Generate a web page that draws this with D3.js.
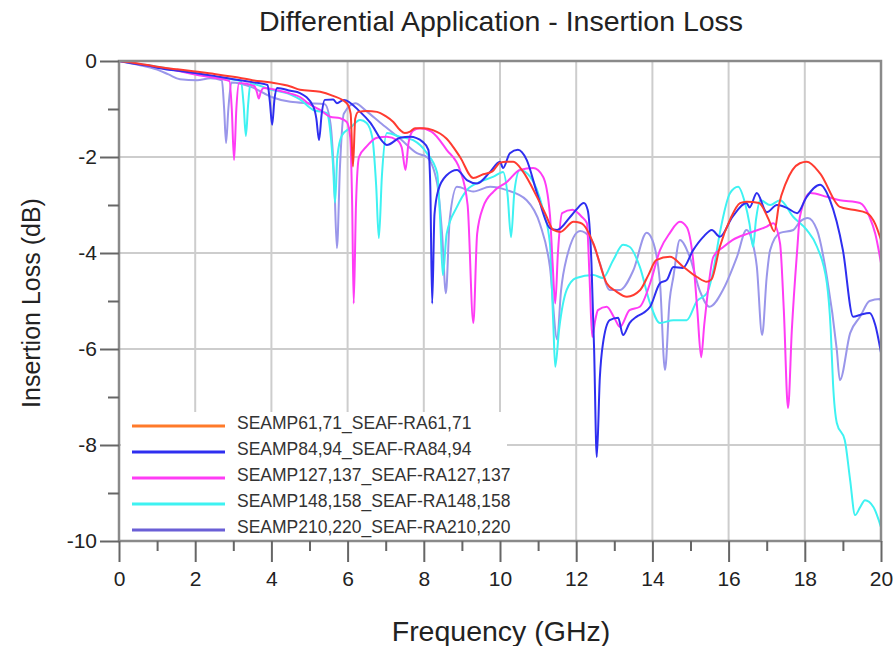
<!DOCTYPE html>
<html>
<head>
<meta charset="utf-8">
<script src="https://cdn.jsdelivr.net/npm/d3@7/dist/d3.min.js"></script>
<style>
  body { margin: 0; background: #fff; }
  svg { font-family: "Liberation Sans", Arial, sans-serif; }
</style>
</head>
<body>
<div id="chart"></div>
<script>
// Insertion loss curves, [frequency GHz, loss dB]
const seamp61 = [[0,0],[0.5,-0.05],[1,-0.12],[1.5,-0.17],[2,-0.22],[2.5,-0.27],[3,-0.33],[3.5,-0.4],[4,-0.45],[4.5,-0.53],[4.75,-0.6],[5.28,-0.64],[5.6,-0.72],[5.98,-0.88],[6.08,-1.1],[6.14,-2.2],[6.2,-1.2],[6.28,-1.06],[6.5,-1.04],[6.77,-1.06],[7.0,-1.15],[7.2,-1.27],[7.38,-1.44],[7.5,-1.5],[7.64,-1.47],[7.77,-1.4],[8.0,-1.4],[8.24,-1.44],[8.6,-1.62],[8.95,-2.0],[9.3,-2.44],[9.56,-2.36],[9.8,-2.3],[10.0,-2.12],[10.17,-2.1],[10.35,-2.1],[10.6,-2.3],[10.97,-2.83],[11.2,-3.2],[11.4,-3.52],[11.58,-3.56],[11.93,-3.35],[12.1,-3.37],[12.2,-3.42],[12.45,-3.8],[12.8,-4.63],[13.05,-4.8],[13.33,-4.91],[13.68,-4.77],[13.9,-4.45],[14.1,-4.15],[14.46,-4.08],[14.8,-4.28],[15.17,-4.5],[15.43,-4.6],[15.55,-4.55],[15.77,-3.87],[16.04,-3.3],[16.3,-2.96],[16.47,-2.93],[16.8,-2.96],[17.05,-3.3],[17.2,-3.55],[17.32,-3.0],[17.5,-2.55],[17.87,-2.13],[18.05,-2.1],[18.4,-2.34],[18.92,-3.04],[19.27,-3.1],[19.63,-3.17],[19.85,-3.4],[20,-3.73]];

const seamp84 = [[0,0],[0.5,-0.07],[0.8,-0.1],[1,-0.14],[1.5,-0.2],[2,-0.25],[2.5,-0.31],[3,-0.38],[3.5,-0.44],[3.9,-0.5],[3.96,-0.85],[4.02,-1.33],[4.08,-0.8],[4.15,-0.56],[4.5,-0.62],[4.75,-0.67],[5.1,-0.95],[5.18,-1.2],[5.25,-1.65],[5.32,-1.1],[5.4,-0.81],[5.62,-0.8],[5.72,-0.88],[5.9,-0.81],[6.33,-1.06],[6.6,-1.29],[6.93,-1.69],[7.03,-1.75],[7.38,-1.6],[7.64,-1.58],[7.98,-1.69],[8.12,-1.85],[8.17,-2.6],[8.22,-5.05],[8.28,-3.2],[8.38,-2.69],[8.6,-2.38],[8.87,-2.27],[9.13,-2.48],[9.4,-2.55],[9.74,-2.31],[10.0,-2.1],[10.08,-2.23],[10.26,-1.92],[10.47,-1.85],[10.7,-2.06],[10.97,-2.75],[11.31,-3.48],[11.5,-3.52],[11.84,-3.25],[12.0,-3.1],[12.2,-2.96],[12.3,-3.1],[12.4,-4.2],[12.47,-6.0],[12.54,-8.25],[12.62,-6.6],[12.7,-5.9],[12.88,-5.4],[13.1,-5.35],[13.23,-5.71],[13.4,-5.46],[13.58,-5.33],[13.76,-5.25],[13.94,-5.12],[14.2,-4.63],[14.38,-4.56],[14.55,-4.29],[14.8,-4.31],[15.07,-3.94],[15.33,-3.67],[15.56,-3.52],[15.77,-3.66],[16.1,-3.25],[16.47,-2.96],[16.55,-3.05],[16.74,-2.75],[17.0,-3.15],[17.27,-3.0],[17.53,-3.06],[17.8,-3.17],[18.05,-2.83],[18.4,-2.58],[18.66,-2.9],[19.0,-3.94],[19.27,-5.33],[19.45,-5.29],[19.7,-5.25],[19.85,-5.5],[20,-6.08]];

const seamp127 = [[0,0],[0.5,-0.06],[1,-0.13],[1.5,-0.2],[2,-0.28],[2.5,-0.35],[2.9,-0.42],[2.96,-1.0],[3.02,-2.06],[3.08,-1.0],[3.15,-0.46],[3.55,-0.52],[3.62,-0.65],[3.67,-0.78],[3.72,-0.65],[3.8,-0.56],[4.2,-0.62],[4.5,-0.68],[4.75,-0.75],[5.0,-0.9],[5.28,-1.02],[5.54,-1.16],[5.8,-1.19],[5.98,-1.27],[6.07,-1.6],[6.12,-3.0],[6.16,-5.05],[6.22,-3.0],[6.3,-2.0],[6.5,-1.78],[6.77,-1.6],[7.03,-1.58],[7.3,-1.65],[7.42,-1.8],[7.52,-2.27],[7.6,-1.7],[7.72,-1.45],[7.9,-1.4],[8.2,-1.47],[8.6,-1.85],[8.95,-2.27],[9.15,-3.0],[9.3,-5.46],[9.4,-3.6],[9.56,-3.04],[9.83,-2.72],[10.18,-2.52],[10.52,-2.27],[10.87,-2.23],[11.13,-2.41],[11.31,-3.2],[11.38,-4.2],[11.45,-5.05],[11.52,-4.0],[11.63,-3.17],[11.9,-3.1],[12.15,-3.25],[12.28,-3.38],[12.35,-4.5],[12.42,-5.75],[12.5,-5.4],[12.57,-5.19],[12.8,-5.12],[13.0,-5.35],[13.15,-5.54],[13.4,-5.19],[13.67,-5.12],[13.94,-4.63],[14.2,-3.94],[14.46,-3.58],[14.72,-3.35],[14.9,-3.46],[15.07,-4.15],[15.18,-5.2],[15.28,-6.17],[15.36,-5.5],[15.43,-4.98],[15.6,-4.08],[15.87,-3.87],[16.1,-3.73],[16.56,-3.58],[17.0,-3.45],[17.17,-3.38],[17.35,-3.8],[17.45,-5.2],[17.56,-7.23],[17.66,-5.6],[17.8,-3.94],[17.87,-3.25],[18.14,-2.75],[18.58,-2.83],[18.92,-2.9],[19.45,-2.96],[19.7,-3.25],[19.85,-3.6],[20,-4.21]];

const seamp148 = [[0,0],[0.5,-0.06],[1,-0.12],[1.5,-0.19],[2,-0.27],[2.5,-0.33],[3.2,-0.42],[3.27,-0.9],[3.33,-1.56],[3.39,-0.9],[3.45,-0.47],[4,-0.6],[4.5,-0.7],[4.75,-0.8],[5.1,-1.02],[5.45,-1.08],[5.55,-1.5],[5.62,-2.2],[5.67,-2.95],[5.73,-2.0],[5.85,-1.55],[6.06,-1.4],[6.33,-1.23],[6.5,-1.29],[6.65,-1.6],[6.75,-2.6],[6.82,-3.69],[6.9,-2.4],[7.03,-1.5],[7.38,-1.58],[7.72,-1.65],[8.08,-1.92],[8.35,-2.33],[8.43,-3.3],[8.5,-4.46],[8.6,-3.6],[8.87,-3.04],[9.13,-2.69],[9.47,-2.52],[9.83,-2.41],[10.08,-2.31],[10.2,-2.8],[10.29,-3.67],[10.38,-2.7],[10.52,-2.27],[10.79,-2.41],[11.13,-3.1],[11.31,-3.8],[11.4,-5.5],[11.45,-6.37],[11.55,-5.6],[11.75,-4.77],[12.0,-4.52],[12.45,-4.46],[12.7,-4.52],[12.97,-4.15],[13.23,-3.83],[13.4,-3.87],[13.67,-4.29],[13.94,-5.05],[14.2,-5.46],[14.55,-5.4],[14.9,-5.4],[15.17,-5.0],[15.43,-4.84],[15.6,-4.36],[15.77,-3.58],[16.04,-2.75],[16.25,-2.62],[16.43,-2.96],[16.55,-3.4],[16.64,-3.87],[16.72,-3.3],[16.83,-2.9],[17.09,-3.0],[17.35,-2.9],[17.7,-3.25],[18.05,-3.52],[18.32,-3.87],[18.58,-4.63],[18.68,-5.6],[18.74,-6.71],[18.84,-7.54],[19.05,-7.9],[19.19,-8.73],[19.32,-9.46],[19.45,-9.3],[19.58,-9.15],[19.8,-9.29],[20,-9.71]];

const seamp210 = [[0,0],[0.5,-0.08],[1,-0.18],[1.3,-0.28],[1.6,-0.38],[2.05,-0.4],[2.4,-0.36],[2.7,-0.4],[2.76,-1.0],[2.81,-1.71],[2.87,-1.0],[2.95,-0.45],[3.5,-0.55],[4.0,-0.75],[4.5,-0.85],[5.0,-0.88],[5.4,-0.9],[5.55,-1.3],[5.65,-2.5],[5.72,-3.9],[5.8,-2.2],[5.9,-1.1],[6.2,-0.88],[6.5,-1.05],[6.85,-1.28],[7.38,-1.62],[7.82,-1.92],[8.08,-2.0],[8.35,-2.55],[8.48,-3.6],[8.58,-4.84],[8.68,-3.3],[8.87,-2.62],[9.3,-2.72],[9.74,-2.62],[10.18,-2.69],[10.7,-2.9],[11.05,-3.4],[11.31,-4.29],[11.5,-5.8],[11.6,-4.8],[11.75,-4.1],[12.1,-3.54],[12.36,-3.67],[12.62,-4.21],[12.88,-4.77],[13.15,-4.77],[13.5,-4.36],[13.85,-3.58],[14.0,-3.73],[14.2,-4.63],[14.33,-6.44],[14.45,-5.0],[14.55,-4.5],[14.72,-3.73],[14.98,-4.08],[15.25,-4.8],[15.5,-5.12],[15.87,-4.74],[16.22,-4.08],[16.47,-3.52],[16.6,-3.7],[16.74,-4.28],[16.88,-5.71],[17.0,-4.5],[17.09,-3.94],[17.35,-3.58],[17.7,-3.52],[17.87,-3.35],[18.08,-3.27],[18.32,-3.52],[18.58,-4.5],[18.84,-6.02],[18.92,-6.65],[19.19,-5.67],[19.45,-5.33],[19.7,-5.0],[19.97,-4.96],[20,-5.0]];

const seriesNames = [
  'SEAMP61,71_SEAF-RA61,71',
  'SEAMP84,94_SEAF-RA84,94',
  'SEAMP127,137_SEAF-RA127,137',
  'SEAMP148,158_SEAF-RA148,158',
  'SEAMP210,220_SEAF-RA210,220',
];
const seriesData = [seamp61, seamp84, seamp127, seamp148, seamp210];
const lineColors = ['#ff3b30', '#2e2ef0', '#ff3cf5', '#3ef2f2', '#9a96ea'];
const legendColors = ['#ff7a2a', '#2e2ef0', '#ff3cf5', '#3ef2f2', '#6a5fd6'];

const xMajor = [0, 2, 4, 6, 8, 10, 12, 14, 16, 18, 20];
const xMinor = [1, 3, 5, 7, 9, 11, 13, 15, 17, 19];
const yMajor = [0, -2, -4, -6, -8, -10];
const yMinor = [-1, -3, -5, -7, -9];

const width = 896;
const height = 646;
const plot = { left: 119, right: 881, top: 61, bottom: 541 };

const svg = d3.select('#chart')
  .append('svg')
  .attr('width', width)
  .attr('height', height);

const x = d3.scaleLinear().domain([0, 20]).range([plot.left, plot.right]);
const y = d3.scaleLinear().domain([-10, 0]).range([plot.bottom, plot.top]);

// grid lines
const grid = svg.append('g').attr('class', 'grid');
grid.selectAll('.vgrid')
  .data(xMajor.slice(1, -1))
  .enter()
  .append('line')
  .attr('x1', (d) => x(d)).attr('x2', (d) => x(d))
  .attr('y1', plot.top).attr('y2', plot.bottom)
  .style('stroke', '#cdcdcd').style('stroke-width', 2);
grid.selectAll('.hgrid')
  .data(yMajor.slice(1, -1))
  .enter()
  .append('line')
  .attr('x1', plot.left).attr('x2', plot.right)
  .attr('y1', (d) => y(d)).attr('y2', (d) => y(d))
  .style('stroke', '#cdcdcd').style('stroke-width', 2);

// legend box sits over the grid, under the curves
const legend = svg.append('g').attr('class', 'legend');
legend.append('rect')
  .attr('x', plot.left + 2).attr('y', 412)
  .attr('width', 386).attr('height', plot.bottom - 412 - 1)
  .style('fill', '#fff');

svg.append('clipPath').attr('id', 'plot-clip')
  .append('rect')
  .attr('x', plot.left).attr('y', plot.top)
  .attr('width', plot.right - plot.left).attr('height', plot.bottom - plot.top);

const line = d3.line()
  .x((d) => x(d[0]))
  .y((d) => y(d[1]))
  .curve(d3.curveMonotoneX);

// draw back to front so the red curve ends up on top
const order = [4, 3, 2, 1, 0];
svg.append('g')
  .attr('clip-path', 'url(#plot-clip)')
  .selectAll('path')
  .data(order)
  .enter()
  .append('path')
  .attr('d', (i) => line(seriesData[i]))
  .style('fill', 'none')
  .style('stroke', (i) => lineColors[i])
  .style('stroke-width', 2);

// legend entries
const legendRow = legend.selectAll('.entry')
  .data(seriesNames)
  .enter()
  .append('g')
  .attr('transform', (d, i) => `translate(0, ${426 + i * 26})`);
legendRow.append('line')
  .attr('x1', 132).attr('x2', 225)
  .style('stroke', (d, i) => legendColors[i])
  .style('stroke-width', 3);
legendRow.append('text')
  .attr('x', 237).attr('y', 3)
  .style('font-size', '17.5px')
  .style('fill', '#333')
  .text((d) => d);

// frame
svg.append('rect')
  .attr('x', plot.left).attr('y', plot.top)
  .attr('width', plot.right - plot.left).attr('height', plot.bottom - plot.top)
  .style('fill', 'none')
  .style('stroke', '#8a8a8a')
  .style('stroke-width', 2.5);

// axes: major ticks with labels, minor ticks without
const styleAxis = (g) => {
  g.select('.domain').remove();
  g.selectAll('line').style('stroke', '#666').style('stroke-width', 2);
  g.selectAll('text').style('font-size', '21px').style('fill', '#222')
    .style('font-family', '"Liberation Sans", Arial, sans-serif');
};
const plainNumber = (d) => String(d);

svg.append('g')
  .attr('transform', `translate(0, ${plot.bottom})`)
  .call(d3.axisBottom(x).tickValues(xMajor).tickSize(21).tickPadding(9).tickFormat(plainNumber))
  .call(styleAxis);
svg.append('g')
  .attr('transform', `translate(0, ${plot.bottom})`)
  .call(d3.axisBottom(x).tickValues(xMinor).tickSize(10).tickFormat(''))
  .call(styleAxis);
svg.append('g')
  .attr('transform', `translate(${plot.left}, 0)`)
  .call(d3.axisLeft(y).tickValues(yMajor).tickSize(19).tickPadding(3).tickFormat(plainNumber))
  .call(styleAxis);
svg.append('g')
  .attr('transform', `translate(${plot.left}, 0)`)
  .call(d3.axisLeft(y).tickValues(yMinor).tickSize(11).tickFormat(''))
  .call(styleAxis);

// titles
svg.append('text')
  .attr('x', 501).attr('y', 31)
  .attr('text-anchor', 'middle')
  .style('font-size', '28.5px')
  .style('fill', '#222')
  .text('Differential Application - Insertion Loss');
svg.append('text')
  .attr('x', 501).attr('y', 641)
  .attr('text-anchor', 'middle')
  .style('font-size', '28.5px')
  .style('fill', '#222')
  .text('Frequency (GHz)');
svg.append('text')
  .attr('transform', `translate(40, ${(plot.top + plot.bottom) / 2 + 2}) rotate(-90)`)
  .attr('text-anchor', 'middle')
  .style('font-size', '25px')
  .style('fill', '#222')
  .text('Insertion Loss (dB)');
</script>
</body>
</html>
